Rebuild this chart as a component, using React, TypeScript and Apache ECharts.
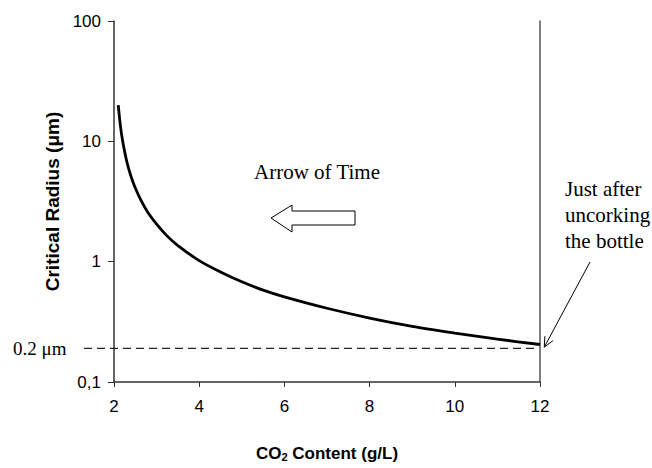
import React, { useEffect, useRef } from "react";
import * as echarts from "echarts";

const co2Content = [2.1, 2.15, 2.2, 2.3, 2.4, 2.5, 2.65, 2.8, 3, 3.25, 3.5, 4, 4.5, 5, 5.5, 6, 7, 8, 9, 10, 11, 12];
const criticalRadius = [20, 13.5, 10.2, 6.8, 5.1, 4.1, 3.15, 2.55, 2.05, 1.63, 1.36, 1.02, 0.82, 0.68, 0.58, 0.51, 0.41, 0.34, 0.29, 0.255, 0.227, 0.205];
const xTicks = [2, 4, 6, 8, 10, 12];
const yTickLabels = ["0,1", "1", "10", "100"];
const thresholdRadius = 0.19;
const thresholdLabel = "0.2 \u03bcm";

export default function App() {
  const ref = useRef<HTMLDivElement>(null);
  useEffect(() => {
    if (!ref.current) return;
    const chart = echarts.init(ref.current, undefined, { renderer: "svg" });
    const axisColor = "#333";
    const sans = "Arial, 'Liberation Sans', sans-serif";
    chart.setOption({
      animation: false,
      backgroundColor: "#fff",
      grid: { left: 114, right: 112, top: 21, bottom: 86, containLabel: false, outerBoundsMode: "none" },
      xAxis: {
        type: "value",
        min: 2,
        max: 12,
        interval: 2,
        axisLine: { show: true, lineStyle: { color: axisColor, width: 1.5 } },
        axisTick: { show: true, inside: false, length: 5, lineStyle: { color: axisColor } },
        axisLabel: {
          color: "#000",
          fontFamily: sans,
          fontSize: 17,
          margin: 16,
          formatter: (v: number) => (xTicks.includes(v) ? String(v) : ""),
        },
        splitLine: { show: false },
        name: "{b|CO}{s|2}{b| Content (g/L)}",
        nameLocation: "middle",
        nameGap: 62,
        nameTextStyle: {
          rich: {
            b: { fontFamily: sans, fontWeight: "bold", fontSize: 17, color: "#000" },
            s: { fontFamily: sans, fontWeight: "bold", fontSize: 11, color: "#000", padding: [7, 0, 0, 0] },
          },
        },
      },
      yAxis: [
        {
          type: "log",
          logBase: 10,
          min: 0.1,
          max: 100,
          axisLine: { show: true, lineStyle: { color: axisColor, width: 1.5 } },
          axisTick: { show: true, length: 6, lineStyle: { color: axisColor } },
          minorTick: { show: false },
          axisLabel: {
            color: "#000",
            fontFamily: sans,
            fontSize: 17,
            margin: 13,
            formatter: (v: number) => {
              const i = Math.round(Math.log10(v)) + 1;
              return yTickLabels[i] ?? "";
            },
          },
          splitLine: { show: false },
          name: "Critical Radius (\u03bcm)",
          nameLocation: "middle",
          nameGap: 52,
          nameRotate: 90,
          nameTextStyle: { fontFamily: sans, fontWeight: "bold", fontSize: 19, color: "#000" },
        },
        {
          type: "log",
          logBase: 10,
          min: 0.1,
          max: 100,
          position: "right",
          axisLine: { show: true, lineStyle: { color: "#555", width: 1.5 } },
          axisTick: { show: false },
          axisLabel: { show: false },
          splitLine: { show: false },
        },
      ],
      series: [
        {
          type: "line",
          data: co2Content.map((x, i) => [x, criticalRadius[i]]),
          showSymbol: false,
          smooth: 0.3,
          lineStyle: { color: "#000", width: 2.8 },
          z: 5,
        },
      ],
    });

    const yDash = chart.convertToPixel({ yAxisIndex: 0 }, thresholdRadius) as number;
    const xEnd = chart.convertToPixel({ xAxisIndex: 0 }, 11.9) as number;
    const tip = chart.convertToPixel({ xAxisIndex: 0, yAxisIndex: 0 }, [12.1, criticalRadius[criticalRadius.length - 1] * 0.95]) as number[];
    const tail = [590, 262];
    const dx = tip[0] - tail[0];
    const dy = tip[1] - tail[1];
    const len = Math.hypot(dx, dy);
    const ux = dx / len, uy = dy / len;
    const hl = 11, ang = (25 * Math.PI) / 180;
    const rot = (a: number) => [
      tip[0] - hl * (ux * Math.cos(a) - uy * Math.sin(a)),
      tip[1] - hl * (ux * Math.sin(a) + uy * Math.cos(a)),
    ];
    const serif = "'Liberation Serif', 'DejaVu Serif', serif";

    chart.setOption({
      graphic: [
        {
          type: "line",
          shape: { x1: 84, y1: yDash, x2: xEnd, y2: yDash },
          style: { stroke: "#222", lineWidth: 1.3, lineDash: [8, 5] },
          z: 3,
        },
        {
          type: "text",
          x: 13,
          y: yDash,
          style: { text: thresholdLabel, font: `19px ${serif}`, fill: "#000", verticalAlign: "middle" },
        },
        {
          type: "text",
          x: 317,
          y: 172,
          style: { text: "Arrow of Time", font: `21px ${serif}`, fill: "#000", align: "center", verticalAlign: "middle" },
        },
        {
          type: "polygon",
          shape: { points: [[271, 218], [292, 205], [292, 211], [355, 211], [355, 225], [292, 225], [292, 232]] },
          style: { fill: "#fff", stroke: "#000", lineWidth: 1 },
        },
        {
          type: "text",
          x: 565,
          y: 176,
          style: { text: "Just after\nuncorking\nthe bottle", font: `21px ${serif}`, lineHeight: 26, fill: "#000", verticalAlign: "top" },
        },
        {
          type: "line",
          shape: { x1: tail[0], y1: tail[1], x2: tip[0], y2: tip[1] },
          style: { stroke: "#000", lineWidth: 1 },
        },
        {
          type: "polyline",
          shape: { points: [rot(ang), tip, rot(-ang)] },
          style: { stroke: "#000", lineWidth: 1, fill: "none" },
        },
      ],
    });
    return () => chart.dispose();
  }, []);
  return <div ref={ref} style={{ position: "fixed", left: 0, top: 0, width: 652, height: 468 }} />;
}
